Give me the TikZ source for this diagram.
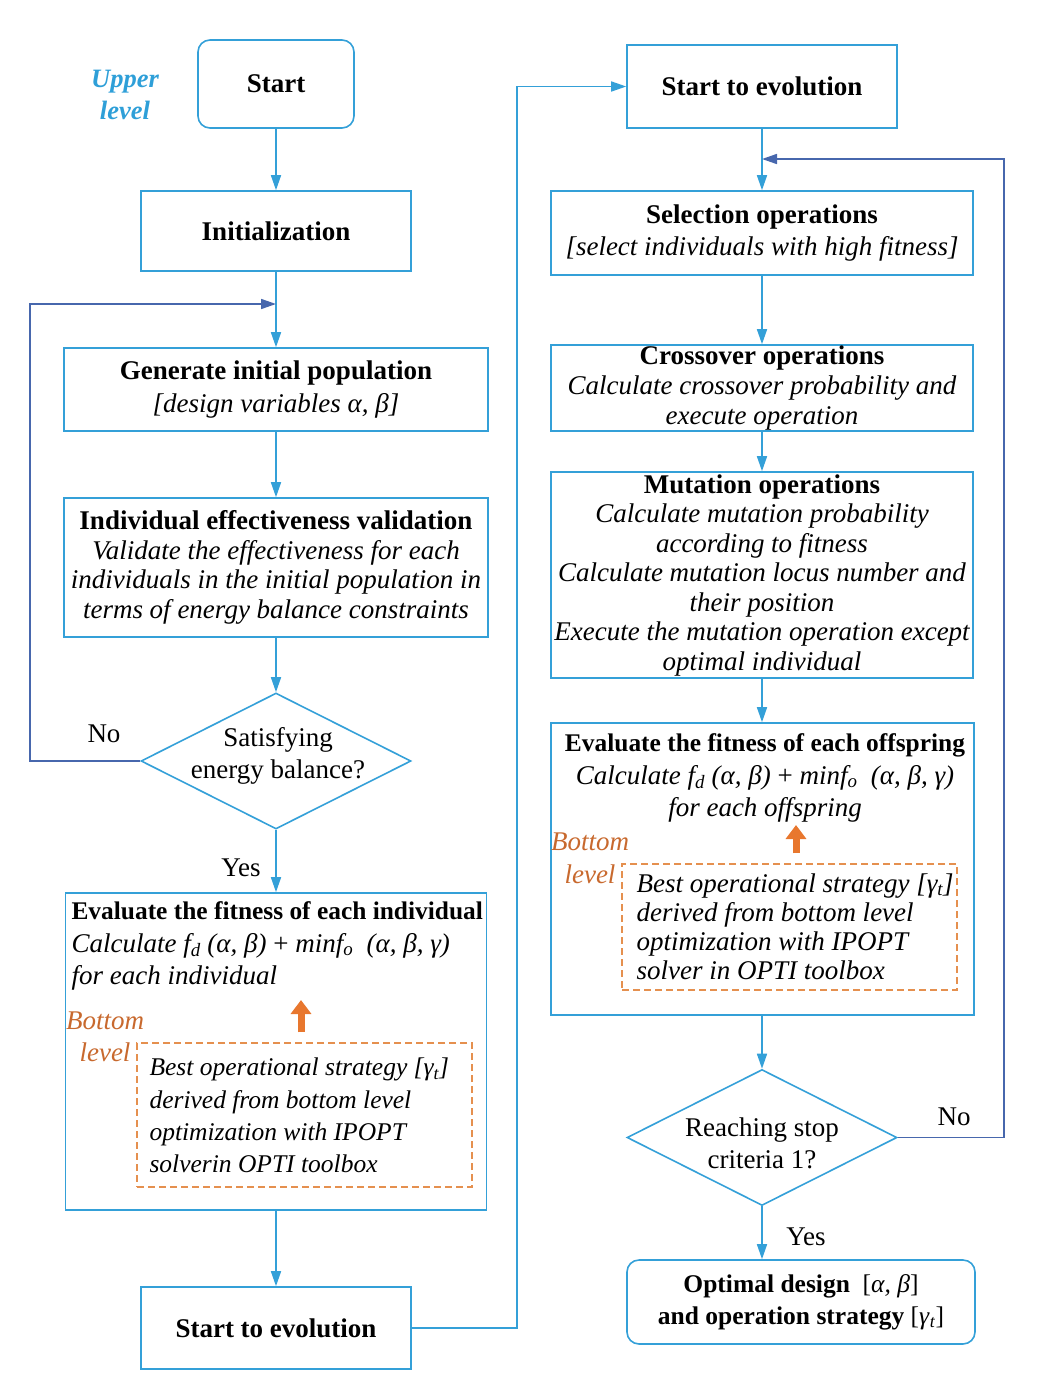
\documentclass[tikz,border=0pt]{standalone}
\usepackage{fontspec}
\setmainfont{Liberation Serif}
\usetikzlibrary{arrows.meta,positioning,shapes.geometric}
\definecolor{kutuMavi}{HTML}{34A0D8}
\definecolor{geriMavi}{HTML}{4767AD}
\definecolor{ustMavi}{HTML}{2E9FD8}
\definecolor{turuncu}{HTML}{E8772E}
\definecolor{kesikTuruncu}{HTML}{E5904F}
\definecolor{altTuruncu}{HTML}{C8692E}
\newcommand{\yazi}[2]{\fontsize{#1}{#2}\selectfont}
\tikzset{
  kutu/.style={draw=kutuMavi,line width=1.6pt,inner sep=0pt,align=center},
  karar/.style={diamond,draw=kutuMavi,line width=1.6pt,inner sep=0pt,
    minimum width=270pt,minimum height=136pt},
  kesikKutu/.style={draw=kesikTuruncu,line width=1.5pt,dash pattern=on 7pt off 4pt},
  ok/.style={draw=kutuMavi,line width=1.6pt,-{Triangle[length=15pt,width=10pt]}},
  geri/.style={draw=geriMavi,line width=1.6pt,-{Triangle[length=15pt,width=10pt]}},
  turuncuOk/.style={draw=turuncu,line width=7pt,shorten <=10pt,
    -{Triangle[length=14pt,width=20pt]}},
  altYazi/.style={text=altTuruncu,align=center,font=\yazi{27}{32}\itshape}
}
\begin{document}
\begin{tikzpicture}[x=1pt,y=-1pt,font=\yazi{27}{29.5}]
\useasboundingbox (0,0) rectangle (1038,1382);

% upper level, left column
\node[kutu,rounded corners=12pt,minimum width=156pt,minimum height=88pt] (basla) at (276,84) {\bfseries Start};
\node[text=ustMavi,align=center,font=\yazi{26.5}{32}\bfseries\itshape] (ustSeviye) at (125,95) {Upper\\level};
\node[kutu,minimum width=270pt,minimum height=80pt] (ilk) at (276,231) {\bfseries Initialization};
\coordinate (donusGiris) at (276,304);
\coordinate (solKose) at (30,304);
\node[kutu,minimum width=424pt,minimum height=83pt,font=\yazi{27}{33}] (nufus) at (276,389.5)
  {\textbf{Generate initial population}\\\textit{[design variables α, β]}};
\node[kutu,minimum width=424pt,minimum height=139pt] (gecerli) at (276,567.5)
  {\textbf{Individual effectiveness validation}\\\itshape Validate the effectiveness for each\\
   \itshape individuals in the initial population in\\\itshape terms of energy balance constraints};
\node[karar] (denge) at (276,761) {};
\node[align=center,font=\yazi{27}{32}] (dengeYazi) at (278,756) {Satisfying\\energy balance?};
\node (hayir1) at (104,734) {No};
\node (evet1) at (241,868) {Yes};
\node[kutu,minimum width=421pt,minimum height=317pt] (bireyUygun) at (276,1051.5) {};
\node[anchor=west,align=left,font=\yazi{27}{32.5}] (bireyYazi) at (68,946)
  {{\fontsize{25.4}{32.5}\selectfont\bfseries Evaluate the fitness of each individual}\\
   \textit{Calculate f\textsubscript{d} (α, β)} + \textit{minf\textsubscript{o}\ \ (α, β, γ)}\\
   \textit{for each individual}};
\node[altYazi] (alt1) at (105,1037) {Bottom\\level};
\node[kesikKutu,minimum width=335pt,minimum height=144pt] (kesik1) at (304.5,1115) {};
\node[anchor=west,align=left,font=\yazi{25.5}{32.3}\itshape] (kesik1Yazi) at (146,1115.5)
  {Best operational strategy [γ\textsubscript{t}]\\derived from bottom level\\
   optimization with IPOPT\\solverin OPTI toolbox};
\coordinate (okUc1) at (301,1000);
\node[kutu,minimum width=270pt,minimum height=82pt] (evrim1) at (276,1328) {\bfseries Start to evolution};
\coordinate (sagGecis) at (517,86.5);

% right column
\node[kutu,minimum width=270pt,minimum height=83pt] (evrim2) at (762,86.5) {\bfseries Start to evolution};
\coordinate (donusGiris2) at (762,159);
\coordinate (sagKose) at (1004,159);
\node[kutu,minimum width=422pt,minimum height=84pt,font=\yazi{27}{32}] (secim) at (762,233)
  {\textbf{Selection operations}\\\textit{[select individuals with high fitness]}};
\node[kutu,minimum width=422pt,minimum height=86pt] (caprazlama) at (762,388)
  {\textbf{Crossover operations}\\\itshape Calculate crossover probability and\\\itshape execute operation};
\node[kutu,minimum width=422pt,minimum height=206pt] (mutasyon) at (762,575)
  {\textbf{Mutation operations}\\\itshape Calculate mutation probability\\\itshape according to fitness\\
   \itshape Calculate mutation locus number and\\\itshape their position\\
   \itshape Execute the mutation operation except\\\itshape optimal individual};
\node[kutu,minimum width=423pt,minimum height=292pt] (cocukUygun) at (762.5,869) {};
\node[align=center,font=\yazi{27}{32.5}] (cocukYazi) at (765,778)
  {{\fontsize{25.4}{32.5}\selectfont\bfseries Evaluate the fitness of each offspring}\\
   \textit{Calculate f\textsubscript{d} (α, β)} + \textit{minf\textsubscript{o}\ \ (α, β, γ)}\\
   \textit{for each offspring}};
\node[altYazi,font=\yazi{27}{33}\itshape] (alt2) at (590,858) {Bottom\\level};
\node[kesikKutu,minimum width=335pt,minimum height=126pt] (kesik2) at (789.5,927) {};
\node[anchor=west,align=left,font=\yazi{27}{29}\itshape] (kesik2Yazi) at (633,926.5)
  {Best operational strategy [γ\textsubscript{t}]\\derived from bottom level\\
   optimization with IPOPT\\solver in OPTI toolbox};
\coordinate (okUc2) at (796,825);
\node[karar] (durma) at (762,1137.5) {};
\node[align=center,font=\yazi{27}{32}] (durmaYazi) at (762,1143) {Reaching stop\\criteria 1?};
\node (hayir2) at (954,1117) {No};
\node (evet2) at (806,1237) {Yes};
\node[kutu,rounded corners=12pt,minimum width=348pt,minimum height=84pt,font=\yazi{25.5}{32}] (sonuc) at (801,1302)
  {\textbf{Optimal design}\ \ [\textit{α, β}]\\\textbf{and operation strategy} [\textit{γ}\textsubscript{\textit{t}}]};

% connectors
\draw[ok] (basla) -- (ilk);
\draw[ok] (ilk) -- (nufus);
\draw[geri] (denge.west) -| (solKose) -- (donusGiris);
\draw[ok] (nufus) -- (gecerli);
\draw[ok] (gecerli) -- (denge);
\draw[ok] (denge) -- (bireyUygun);
\draw[ok] (bireyUygun) -- (evrim1);
\draw[ok] (evrim1.east) -| (sagGecis) -- (evrim2.west);
\draw[ok] (evrim2) -- (secim);
\draw[geri] (durma.east) -| (sagKose) -- (donusGiris2);
\draw[ok] (secim) -- (caprazlama);
\draw[ok] (caprazlama) -- (mutasyon);
\draw[ok] (mutasyon) -- (cocukUygun.north -| mutasyon.south);
\draw[ok] (cocukUygun.south -| durma.north) -- (durma);
\draw[ok] (durma.south) -- (durma.south |- sonuc.north);
\draw[turuncuOk] (okUc1 |- kesik1.north) -- (okUc1);
\draw[turuncuOk] (okUc2 |- kesik2.north) -- (okUc2);
\end{tikzpicture}
\end{document}
